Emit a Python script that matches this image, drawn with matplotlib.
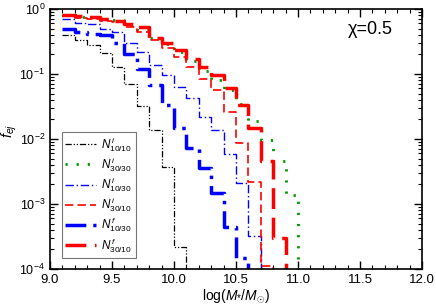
import matplotlib
matplotlib.use("Agg")
import matplotlib.pyplot as plt
from matplotlib.ticker import MultipleLocator, LogLocator, NullFormatter

plt.rcParams['font.family'] = ['Liberation Sans', 'DejaVu Sans']
plt.rcParams['mathtext.fontset'] = 'custom'
plt.rcParams['mathtext.rm'] = 'Liberation Sans'
plt.rcParams['mathtext.it'] = 'Liberation Sans:italic'
plt.rcParams['mathtext.bf'] = 'Liberation Sans:bold'

# bin left edges, width 0.1
edges = [9.1 + 0.1 * k for k in range(20)]

n_i_10_10 = [0.40, 0.33, 0.28, 0.21, 0.13, 0.07, 0.032, 0.014, 0.0037, 0.00022]
n_i_30_30 = [0.80, 0.76, 0.74, 0.70, 0.68, 0.56, 0.47, 0.36, 0.29, 0.22,
             0.16, 0.11, 0.08, 0.057, 0.035, 0.019, 0.0098, 0.0046, 0.0014]
n_i_10_30 = [0.70, 0.60, 0.58, 0.49, 0.45, 0.30, 0.22, 0.14, 0.097, 0.063,
             0.043, 0.022, 0.014, 0.0059, 0.0021, 0.00032]
n_i_30_10 = [0.78, 0.72, 0.70, 0.66, 0.62, 0.52, 0.45, 0.33, 0.25, 0.18,
             0.13, 0.085, 0.057, 0.026, 0.0087, 0.0022, 0.00011]
n_f_10_30 = [0.49, 0.45, 0.41, 0.40, 0.30, 0.20, 0.12, 0.068, 0.033, 0.015,
             0.0073, 0.0036, 0.0015, 0.00045, 0.00015]
n_f_30_10 = [0.82, 0.78, 0.74, 0.70, 0.66, 0.58, 0.52, 0.36, 0.30, 0.23,
             0.17, 0.13, 0.095, 0.061, 0.033, 0.015, 0.0046, 0.0003]

labels = [r'$N^{\,i}_{\mathit{10/10}}$', r'$N^{\,i}_{\mathit{30/30}}$',
          r'$N^{\,i}_{\mathit{10/30}}$', r'$N^{\,i}_{\mathit{30/10}}$',
          r'$N^{\,f}_{\mathit{10/30}}$', r'$N^{\,f}_{\mathit{30/10}}$']

fig = plt.figure(figsize=(4.36, 3.05), dpi=100)
ax = fig.add_axes([50/436, 1-269/305, 372/436, 260/305])


def draw(vals, **kw):
    n = len(vals)
    xs = edges[:n + 1]
    ys = list(vals) + [1e-7]
    ax.step(xs, ys, where='post', **kw)


draw(n_i_10_10, color='black', lw=0.9, dashes=(5, 1.5, 1, 1.5, 1, 1.5), label=labels[0])
draw(n_i_30_30, color='#009900', lw=2.0, dashes=(0.8, 3.2), label=labels[1])
draw(n_i_10_30, color='blue', lw=1.0, dashes=(6, 2, 1, 2), label=labels[2])
draw(n_i_30_10, color='red', lw=1.2, dashes=(5, 2.5), label=labels[3])
draw(n_f_10_30, color='blue', lw=2.5, dashes=(6, 2, 1, 2), label=labels[4])
draw(n_f_30_10, color='red', lw=2.5, dashes=(6, 2.5), label=labels[5])

ax.set_yscale('log')
ax.set_xlim(9.0, 12.0)
ax.set_ylim(1e-4, 1.0)
ax.xaxis.set_major_locator(MultipleLocator(0.5))
ax.xaxis.set_minor_locator(MultipleLocator(0.1))
ax.yaxis.set_major_locator(LogLocator(base=10, numticks=10))
ax.yaxis.set_minor_locator(LogLocator(base=10, subs=range(2, 10), numticks=10))
ax.yaxis.set_minor_formatter(NullFormatter())
ax.tick_params(which='both', direction='in', top=True, right=True, labelsize=9)
ax.tick_params(axis='x', labelsize=9.5)
ax.tick_params(which='major', length=6, width=1)
ax.tick_params(which='minor', length=3, width=0.8)
for s in ax.spines.values():
    s.set_linewidth(1.2)

ax.set_xlabel(r'log($M_{*}$/$M_{\odot}$)', fontsize=10, labelpad=1)
ax.set_ylabel(r'$f_{ej}$', fontsize=10.5)
ax.yaxis.set_label_coords(-0.082, 0.53)

ax.text(0.80, 0.905, 'χ=0.5', transform=ax.transAxes, fontsize=13)

leg = ax.legend(loc='lower left', bbox_to_anchor=(0.032, 0.042), borderaxespad=0,
                fontsize=8.5, frameon=True, fancybox=False, edgecolor='#555555',
                handlelength=2.55, labelspacing=0.12, borderpad=0.3,
                handletextpad=0.5)
leg.get_frame().set_linewidth(0.8)

fig.savefig('out.png', dpi=100)
